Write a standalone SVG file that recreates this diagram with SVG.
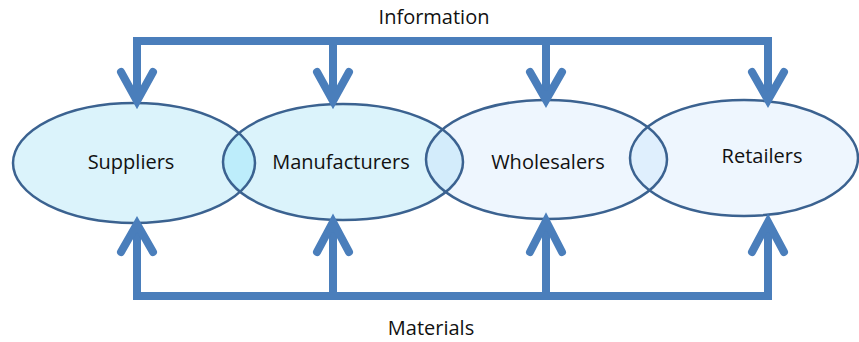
<svg xmlns="http://www.w3.org/2000/svg" width="859" height="342" viewBox="0 0 859 342">
<style>
.lbl{font-family:"Open Sans","Liberation Sans",sans-serif;font-size:20px;fill:#111;text-anchor:middle}
.edge{fill:none;stroke:#4a7ebb;stroke-width:8;stroke-linecap:round;stroke-linejoin:miter}
.bar{fill:none;stroke:#4a7ebb;stroke-width:8;stroke-linecap:butt;stroke-linejoin:miter}
.ol{fill:none;stroke:#3b6290;stroke-width:2.5}
</style>
<defs>
<clipPath id="cS"><ellipse cx="134" cy="163" rx="121" ry="60"/></clipPath>
<clipPath id="cM"><ellipse cx="343" cy="162" rx="120" ry="58"/></clipPath>
<clipPath id="cW"><ellipse cx="546.5" cy="159.5" rx="120.5" ry="59.5"/></clipPath>
</defs>
<rect width="859" height="342" fill="#fff"/>
<g id="fills">
<ellipse cx="134" cy="163" rx="121" ry="60" fill="#dbf3fb"/>
<ellipse cx="343" cy="162" rx="120" ry="58" fill="#dbf3fb"/>
<ellipse cx="546.5" cy="159.5" rx="120.5" ry="59.5" fill="#eef6fe"/>
<ellipse cx="744" cy="158" rx="114" ry="58" fill="#eef6fe"/>
<ellipse cx="343" cy="162" rx="120" ry="58" fill="#bdedfb" clip-path="url(#cS)"/>
<ellipse cx="546.5" cy="159.5" rx="120.5" ry="59.5" fill="#d3ecfb" clip-path="url(#cM)"/>
<ellipse cx="744" cy="158" rx="114" ry="58" fill="#dfeffd" clip-path="url(#cW)"/>
</g>
<g id="suppliers">
<ellipse class="ol" cx="134" cy="163" rx="121" ry="60"/>
<text class="lbl" x="131" y="169">Suppliers</text>
</g>
<g id="manufacturers">
<ellipse class="ol" cx="343" cy="162" rx="120" ry="58"/>
<text class="lbl" x="341" y="169">Manufacturers</text>
</g>
<g id="wholesalers">
<ellipse class="ol" cx="546.5" cy="159.5" rx="120.5" ry="59.5"/>
<text class="lbl" x="548" y="169">Wholesalers</text>
</g>
<g id="retailers">
<ellipse class="ol" cx="744" cy="158" rx="114" ry="58"/>
<text class="lbl" x="762" y="163">Retailers</text>
</g>
<g id="connectors">
<path class="bar" d="M137,100 V41 H768 V100 M333,41 V100 M546,41 V100"/>
<path class="edge" d="M121,72 L137,101 L153,72 M317,72 L333,101 L349,72 M530,72 L546,100 L562,72 M752,72 L768,100 L784,72"/>
<path class="bar" d="M137,224 V296 H768 V224 M333,296 V223 M546,296 V222"/>
<path class="edge" d="M121,252 L137,224 L153,252 M317,252 L333,222 L349,252 M530,252 L546,221 L562,252 M752,252 L768,222 L784,252"/>
<text class="lbl" x="434" y="24">Information</text>
<text class="lbl" x="431" y="335">Materials</text>
</g>
</svg>
